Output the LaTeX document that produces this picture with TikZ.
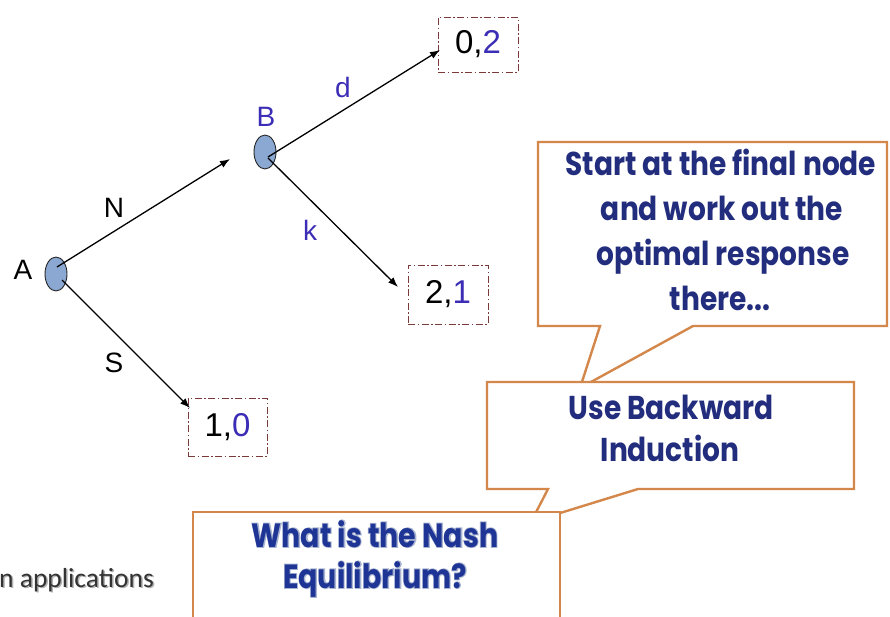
\documentclass[tikz,border=0pt]{standalone}
\usepackage{fontspec}
\setmainfont{Liberation Sans}
\newfontfamily\callfont[FakeStretch=0.85]{Poppins}
\newfontfamily\glowfont[FakeStretch=0.85,FakeBold=5]{Poppins}
\newfontfamily\calfont{Carlito}
\usetikzlibrary{arrows.meta,calc,shapes.geometric}
\definecolor{navy}{HTML}{232D7D}
\definecolor{navyb}{HTML}{1E3596}
\definecolor{pblue}{HTML}{3B2DB5}
\definecolor{nodefill}{HTML}{8AA8D2}
\definecolor{calloutline}{HTML}{D4874A}
\definecolor{boxline}{HTML}{7A3A3A}
\definecolor{glow}{HTML}{A8B4D0}
\begin{document}
\begin{tikzpicture}[x=1pt,y=-1pt,
  gnode/.style={ellipse, draw=black!85, fill=nodefill, minimum width=22pt, minimum height=34pt, inner sep=0pt, line width=0.9pt},
  lbl/.style={font=\fontsize{28}{32}\selectfont, inner sep=0pt},
  payoff/.style={draw=boxline, dash pattern=on 7pt off 2.5pt on 1.5pt off 2.5pt, line width=0.9pt, fill=white, font=\fontsize{33}{36}\selectfont, inner sep=0pt},
  edge/.style={line width=1.3pt, -{Latex[length=10pt,width=7.5pt]}},
  callbox/.style={draw=calloutline, line width=2.4pt, fill=white, line join=miter},
  calltext/.style={font=\callfont\bfseries\fontsize{33}{36}\selectfont, text=navy, inner sep=0pt, anchor=base},
  nashtext/.style={font=\callfont\bfseries\fontsize{33.5}{36}\selectfont, inner sep=0pt, anchor=base},
  glowtext/.style={font=\glowfont\bfseries\fontsize{33.5}{36}\selectfont, inner sep=0pt, anchor=base}
]
\useasboundingbox (0,0) rectangle (890,616);
\clip (0,0) rectangle (890,616);

% game tree nodes
\node[gnode] (A) at (56,274) {};
\node[gnode] (B) at (265,152) {};
\node[lbl] (Alab) at (23,270) {A};
\node[lbl, text=pblue] (Blab) at (266,117) {B};

\node[payoff, minimum width=80pt, minimum height=55pt] (p02) at (478,44.5) {0,\textcolor{pblue}{2}};
\node[payoff, minimum width=80pt, minimum height=59pt] (p21) at (448,294.5) {2,\textcolor{pblue}{1}};
\node[payoff, minimum width=79pt, minimum height=58pt] (p10) at (227.5,427) {1,\textcolor{pblue}{0}};

\coordinate (Ntip) at (230,159);
\coordinate (dtip) at (440,50);
\coordinate (ktip) at (398,287);
\coordinate (Stip) at (190,408);

\draw[edge] ([shift={(1,-7)}]A.center) -- (Ntip);
\draw[edge] ([shift={(6,6)}]A.center) -- (Stip);
\draw[edge] ([shift={(3,5)}]B.center) -- (dtip);
\draw[edge] ([shift={(3,6)}]B.center) -- (ktip);

\node[lbl] (Nlab) at (114,208) {N};
\node[lbl] (Slab) at (114,363) {S};
\node[lbl, text=pblue] (dlab) at (343,87) {d};
\node[lbl, text=pblue] (klab) at (310,230) {k};

% bottom-left partial text
\node[font=\calfont\fontsize{27.5}{30}\selectfont, text=black!30, anchor=base west, inner sep=0pt] (appsh) at (0.5,588.5) {n applications};
\node[font=\calfont\fontsize{27.5}{30}\selectfont, text=black!80, anchor=base west, inner sep=0pt] (app) at (-1,587) {n applications};

% callouts
\draw[callbox] (538,142) -- (887,142) -- (887,326) -- (693,326) -- (580,388) -- (600,326) -- (538,326) -- cycle;
\draw[callbox] (487,382) -- (854,382) -- (854,489) -- (638,489) -- (531,522) -- (548,489) -- (487,489) -- cycle;
\draw[callbox] (193,512) -- (560,512) -- (560,640) -- (193,640) -- cycle;

\node[calltext] (t1) at (721,175) {Start at the final node};
\node[calltext] (t2) at (722,220) {and work out the};
\node[calltext] (t3) at (723,265) {optimal response};
\node[calltext] (t4) at (720,310) {there...};

\node[calltext] (u1) at (671,419) {Use Backward};
\node[calltext] (u2) at (670,461) {Induction};

\node[glowtext, text=glow] (w1g) at (375,547) {What is the Nash};
\node[glowtext, text=glow] (w2g) at (375,588) {Equilibrium?};
\node[nashtext, text=navyb] (w1) at (375,547) {What is the Nash};
\node[nashtext, text=navyb] (w2) at (375,588) {Equilibrium?};
\end{tikzpicture}
\end{document}
